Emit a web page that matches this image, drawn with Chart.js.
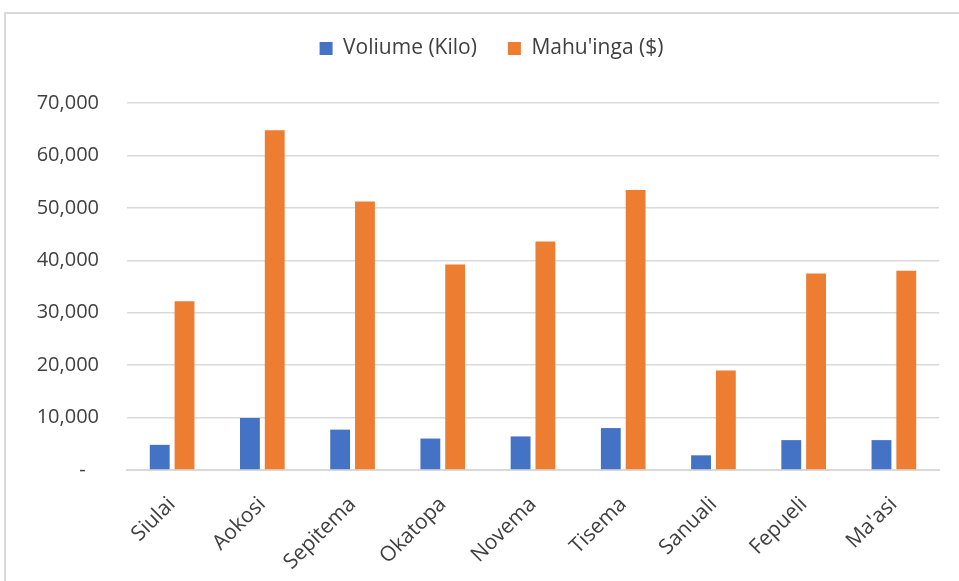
<!DOCTYPE html>
<html>
<head>
<meta charset="utf-8">
<script src="https://cdn.jsdelivr.net/npm/chart.js@4/dist/chart.umd.min.js"></script>
<style>
  html, body { margin: 0; padding: 0; background: #fff; overflow: hidden; }
  #frame {
    position: absolute; left: 4px; top: 12px; width: 1000px; height: 700px;
    border: 2px solid #d9d9d9; box-sizing: border-box;
  }
  #wrap { position: absolute; left: 0; top: 0; width: 959px; height: 581px; }
</style>
</head>
<body>
<div id="frame"></div>
<div id="wrap"><canvas id="myChart"></canvas></div>
<script>
// months (Tongan)
const months = ["Siulai", "Aokosi", "Sepitema", "Okatopa", "Novema", "Tisema", "Sanuali", "Fepueli", "Ma'asi"];
const volumeKilo = [4800, 9900, 7700, 6000, 6400, 8000, 2800, 5700, 5700];
const valueDollar = [32200, 64800, 51200, 39200, 43600, 53400, 19000, 37500, 38000];
const seriesNames = ["Voliume (Kilo)", "Mahu'inga ($)"];
const yMax = 70000;
const yStep = 10000;

const textColor = "#404040";
const gridColor = "#d9d9d9";
const fontFamily = "'Open Sans', sans-serif";

function formatTick(value) {
  if (value === 0) {
    return "-\u2002\u2009";
  }
  return value.toLocaleString("en-US");
}

// push the plot down below the legend and centre the legend on the frame, like the excel chart
const legendSpace = {
  id: "legendSpace",
  beforeInit(chart) {
    const fit = chart.legend.fit;
    chart.legend.fit = function () {
      fit.bind(chart.legend)();
      this.height += 34;
    };
  },
  afterLayout(chart) {
    chart.legend.left += 44;
  },
};

let ctx = document.getElementById("myChart").getContext("2d");
let currentChart = new Chart(ctx, {
  type: "bar",
  data: {
    labels: months,
    datasets: [
      {
        label: seriesNames[0],
        data: volumeKilo,
        backgroundColor: "#4472c4",
      },
      {
        label: seriesNames[1],
        data: valueDollar,
        backgroundColor: "#ed7d31",
      },
    ],
  },
  options: {
    responsive: true,
    maintainAspectRatio: false,
    animation: false,
    categoryPercentage: 0.55,
    barPercentage: 0.8,
    layout: {
      padding: { top: 7, right: 20, left: 0, bottom: 0 },
    },
    plugins: {
      tooltip: { enabled: false },
      legend: {
        position: "top",
        labels: {
          boxWidth: 13,
          boxHeight: 13,
          padding: 31,
          color: textColor,
          font: { family: fontFamily, size: 21 },
        },
      },
    },
    scales: {
      x: {
        grid: { display: false },
        border: { color: gridColor, width: 2 },
        ticks: {
          color: textColor,
          font: { family: fontFamily, size: 21 },
          minRotation: 45,
          maxRotation: 45,
          padding: 14,
        },
        afterFit: function (scale) {
          scale.height = 111;
        },
      },
      y: {
        min: 0,
        max: yMax,
        border: { display: false },
        grid: { color: gridColor, lineWidth: 1.5, drawTicks: false },
        ticks: {
          stepSize: yStep,
          color: textColor,
          padding: 28,
          font: { family: fontFamily, size: 20 },
          callback: formatTick,
        },
        afterFit: function (scale) {
          scale.width = 127;
        },
      },
    },
  },
  plugins: [legendSpace],
});
</script>
</body>
</html>
